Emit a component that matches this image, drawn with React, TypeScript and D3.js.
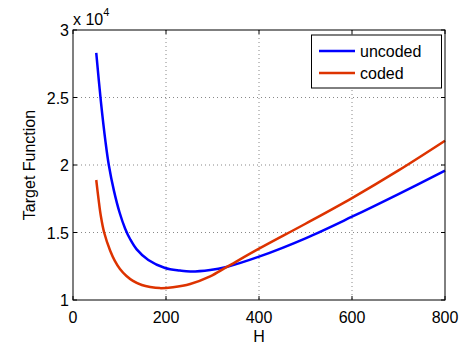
import React, { useEffect, useRef } from "react";
import * as d3 from "d3";

// values (H, target function)
const uncodedH = [50, 60, 70, 77, 88, 100, 112, 123, 137, 162, 198, 230, 252, 295, 330, 400, 500, 600, 700, 800];
const uncodedY = [28300, 24700, 21700, 20000, 18100, 16500, 15300, 14500, 13750, 12960, 12370, 12180, 12110, 12220, 12450, 13210, 14570, 16170, 17850, 19580];

const codedH = [50, 55, 60, 67, 80, 90, 101, 115, 129, 148, 166, 187, 215, 252, 295, 330, 400, 500, 600, 700, 800];
const codedY = [18890, 17450, 16200, 15000, 13650, 12900, 12300, 11780, 11420, 11110, 10960, 10880, 10950, 11190, 11750, 12430, 13800, 15650, 17550, 19600, 21800];

const xTicks = [0, 200, 400, 600, 800];
const yTicks = [10000, 15000, 20000, 25000, 30000];
const yTickLabels = ["1", "1.5", "2", "2.5", "3"];

const seriesNames = ["uncoded", "coded"];
const seriesColors = ["#0000ff", "#dd3300"];

export default function App() {
  const svgRef = useRef<SVGSVGElement>(null);

  useEffect(() => {
    const svg = d3.select(svgRef.current);
    svg.selectAll("*").remove();

    const left = 73, right = 445, top = 30, bottom = 300;
    const font = "'Liberation Sans', Arial, sans-serif";

    const x = d3.scaleLinear().domain([0, 800]).range([left, right]);
    const y = d3.scaleLinear().domain([10000, 30000]).range([bottom, top]);

    svg.append("rect").attr("width", 466).attr("height", 349).attr("fill", "#fff");

    // grid
    const grid = svg.append("g")
      .attr("stroke", "#888")
      .attr("stroke-width", 1)
      .attr("stroke-dasharray", "1,3");
    xTicks.slice(1, -1).forEach(t => {
      grid.append("line").attr("x1", x(t)).attr("x2", x(t)).attr("y1", top).attr("y2", bottom);
    });
    yTicks.slice(1, -1).forEach(t => {
      grid.append("line").attr("x1", left).attr("x2", right).attr("y1", y(t)).attr("y2", y(t));
    });

    // curves
    const line = d3.line<[number, number]>()
      .x(d => x(d[0]))
      .y(d => y(d[1]))
      .curve(d3.curveCatmullRom.alpha(0.5));
    const data: [number, number][][] = [
      uncodedH.map((h, i) => [h, uncodedY[i]]),
      codedH.map((h, i) => [h, codedY[i]]),
    ];
    data.forEach((pts, i) => {
      svg.append("path")
        .attr("d", line(pts))
        .attr("fill", "none")
        .attr("stroke", seriesColors[i])
        .attr("stroke-width", 2.5);
    });

    // axes box
    svg.append("rect")
      .attr("x", left).attr("y", top)
      .attr("width", right - left).attr("height", bottom - top)
      .attr("fill", "none").attr("stroke", "#000").attr("stroke-width", 1);

    const ticks = svg.append("g").attr("stroke", "#000").attr("stroke-width", 1);
    xTicks.forEach(t => {
      ticks.append("line").attr("x1", x(t)).attr("x2", x(t)).attr("y1", bottom).attr("y2", bottom - 4);
      ticks.append("line").attr("x1", x(t)).attr("x2", x(t)).attr("y1", top).attr("y2", top + 4);
    });
    yTicks.forEach(t => {
      ticks.append("line").attr("x1", left).attr("x2", left + 4).attr("y1", y(t)).attr("y2", y(t));
      ticks.append("line").attr("x1", right).attr("x2", right - 4).attr("y1", y(t)).attr("y2", y(t));
    });

    // tick labels
    xTicks.forEach(t => {
      svg.append("text")
        .attr("x", x(t)).attr("y", 323)
        .attr("text-anchor", "middle")
        .attr("font-family", font).attr("font-size", 16)
        .text(String(t));
    });
    yTicks.forEach((t, i) => {
      svg.append("text")
        .attr("x", 69).attr("y", y(t) + 6)
        .attr("text-anchor", "end")
        .attr("font-family", font).attr("font-size", 16)
        .text(yTickLabels[i]);
    });

    // exponent
    const ex = svg.append("text")
      .attr("x", 73).attr("y", 25)
      .attr("font-family", font).attr("font-size", 16);
    ex.append("tspan").text("x 10");
    ex.append("tspan").attr("font-size", 11).attr("dy", -9).text("4");

    // axis labels
    svg.append("text")
      .attr("x", x(400)).attr("y", 342)
      .attr("text-anchor", "middle")
      .attr("font-family", font).attr("font-size", 16)
      .text("H");
    svg.append("text")
      .attr("transform", `translate(35,${(top + bottom) / 2}) rotate(-90)`)
      .attr("text-anchor", "middle")
      .attr("font-family", font).attr("font-size", 16)
      .text("Target Function");

    // legend
    const lg = svg.append("g");
    lg.append("rect")
      .attr("x", 311.5).attr("y", 35)
      .attr("width", 130).attr("height", 53)
      .attr("fill", "#fff").attr("stroke", "#000").attr("stroke-width", 1);
    seriesNames.forEach((name, i) => {
      const ly = 51 + i * 22;
      lg.append("line")
        .attr("x1", 319).attr("x2", 355).attr("y1", ly).attr("y2", ly)
        .attr("stroke", seriesColors[i]).attr("stroke-width", 2.5);
      lg.append("text")
        .attr("x", 360).attr("y", ly + 6)
        .attr("font-family", font).attr("font-size", 16)
        .text(name);
    });
  }, []);

  return (
    <svg
      ref={svgRef}
      width={466}
      height={349}
      style={{ position: "absolute", left: 0, top: 0 }}
    />
  );
}
